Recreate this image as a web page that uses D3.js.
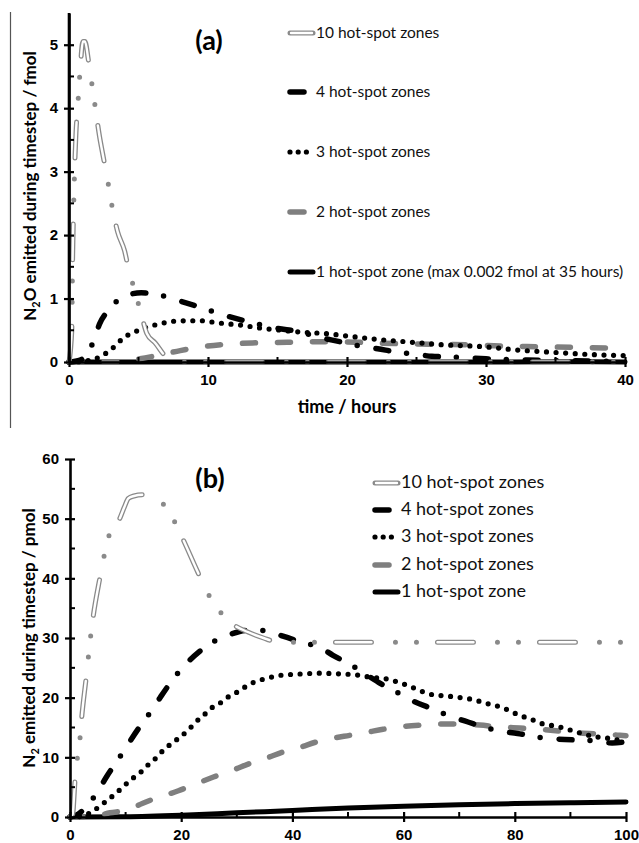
<!DOCTYPE html>
<html>
<head>
<meta charset="utf-8">
<script src="https://cdnjs.cloudflare.com/ajax/libs/d3/7.8.5/d3.min.js"></script>
<style>
  body { margin: 0; background: #fff; }
  svg { font-family: Lato, "Open Sans", sans-serif; }
  .tick text { font-weight: bold; font-size: 15px; }
</style>
</head>
<body>
<svg id="chart" width="639" height="843"></svg>
<script>
// ---- data ----
// panel (a): N2O, time in hours, fmol
var hoursA = [0, 10, 20, 30, 40];
var n2oTicks = [0, 1, 2, 3, 4, 5];
var n2o_10 = [[0,0],[0.2,0.5],[0.25,1.5],[0.3,2.1],[0.4,3.0],[0.5,3.6],[0.65,4.1],[0.8,4.6],[1.0,5.05],[1.15,5.05],
  [1.4,4.75],[1.6,4.45],[1.8,4.15],[2.2,3.55],[2.45,3.25],[2.75,2.9],[3.1,2.45],[3.5,2.05],[4.0,1.75],[4.3,1.45],
  [4.7,1.15],[5.2,0.75],[5.6,0.45],[6.2,0.3],[7,0.08],[8,0],[40,0]];
var n2o_4 = [[0,0],[0.8,0.03],[1.75,0.32],[2.2,0.6],[2.95,0.84],[3.9,1.03],[5.2,1.09],[6.4,1.06],[7.7,0.98],[9.2,0.88],
  [10.3,0.8],[11.6,0.71],[13,0.63],[15,0.53],[16.5,0.48],[17.8,0.4],[19.5,0.32],[21,0.25],[22.2,0.21],[23.5,0.16],
  [25,0.12],[26.1,0.09],[27.5,0.08],[29,0.06],[30,0.05],[33,0.03],[36,0.02],[40,0.01]];
var n2o_3 = [[0,0],[1,0.01],[2.2,0.08],[2.8,0.16],[3.4,0.27],[3.9,0.38],[4.6,0.46],[5.2,0.52],[5.95,0.57],[6.7,0.61],
  [7.4,0.64],[8.4,0.65],[9.6,0.65],[10.3,0.63],[11,0.61],[12.4,0.58],[13.9,0.53],[15.3,0.5],[16.8,0.47],[18.3,0.45],
  [20.4,0.4],[22,0.36],[24.2,0.32],[27,0.27],[29.9,0.24],[32.2,0.19],[35,0.15],[37.3,0.12],[40,0.1]];
var n2o_2 = [[0,0],[3,0],[5.1,0.05],[6.3,0.1],[8,0.18],[9.6,0.24],[11.4,0.28],[13.2,0.3],[15.7,0.31],[18.4,0.32],
  [20.9,0.31],[23.5,0.29],[26.1,0.28],[28.8,0.27],[31.2,0.25],[33.9,0.24],[36.4,0.23],[38.9,0.22],[40,0.21]];
var n2o_1 = [[0,0],[10,0.0005],[20,0.0015],[35,0.002],[40,0.0019]];

// panel (b): N2, time in hours, pmol
var hoursB = [0, 20, 40, 60, 80, 100];
var n2Ticks = [0, 10, 20, 30, 40, 50, 60];
var n2_10 = [[0,0],[0.5,0.5],[0.7,3],[0.9,6.2],[1.3,9.7],[1.8,13.2],[2.1,16.6],[2.9,23.3],[3.3,26.8],[3.7,30.2],
  [4.2,33.8],[5.4,40.2],[6.1,43.6],[7,47.1],[8.8,49.7],[9.8,52],[10.5,53.4],[11.5,53.8],[13,54],[14.5,53.8],
  [16.2,53],[18.4,50.2],[20.1,47],[23,41],[24.5,38],[26.5,35],[29,32.5],[32,31],[34.8,30],[37,29.4],[40,29.3],[100,29.3]];
var n2_4 = [[0,0],[1.5,0.5],[2.5,1.3],[4.8,4],[6.6,6.8],[8.7,9.7],[10.5,12.3],[12.3,14.8],[14.7,17.9],[16.2,20],
  [18.3,22.8],[20.4,25.2],[23.1,27.6],[26,29.5],[28.8,30.6],[32,31.3],[35.6,31.2],[38.3,30.3],[41.7,29.3],[45,28.4],
  [47.3,27.1],[50.5,25.5],[53.4,23.8],[55.8,22.4],[59,20.8],[62,19.3],[64.7,18.3],[67.8,17.1],[71,16.1],[74,15.2],
  [77.3,14.4],[80.5,14],[84,13.4],[87.2,13.1],[91,12.9],[94,12.8],[97.5,12.4],[100,12.6]];
var n2_3 = [[0,0],[2,0.1],[3.6,0.7],[5.2,1.7],[6.7,2.8],[8.3,4],[9.7,5.2],[11.3,6.5],[12.7,7.5],[14,8.7],[15.6,10],
  [17,11.4],[18.4,12.4],[19.8,13.4],[21.3,14.6],[22.6,15.9],[24.1,17.1],[25.5,18.3],[27,19.1],[28.4,20.1],[30,20.9],
  [31.5,21.8],[33.1,22.6],[34.8,23.1],[36.5,23.5],[38.3,23.8],[40.1,23.9],[42,24],[45,24.1],[48,24],[51.6,23.8],
  [53.6,23.5],[55.4,23.3],[57.2,23.1],[59,22.6],[60.6,22.1],[62.4,21.4],[64,20.8],[65.8,20.4],[67.6,20.3],
  [69.4,20.1],[71,19.9],[72.9,19.6],[74.6,19.1],[76,18.8],[77.9,18.3],[79.5,17.6],[81.3,16.9],[82.9,16.4],
  [84.7,15.7],[86.3,15.4],[88,15.1],[89.9,14.6],[91.7,14.1],[93.3,13.7],[94.9,13.4],[96.8,13.2],[98.5,12.9],[100,12.6]];
var n2_2 = [[0,0],[4,0],[7.2,0.7],[10,1.1],[13.1,2.3],[15,3],[19.5,4.4],[22.2,5.4],[25.8,6.7],[29.4,7.9],[32.4,9],
  [35.4,9.9],[38.3,10.9],[41.4,11.7],[44.4,12.6],[47.3,13.2],[50.4,13.7],[53.4,14.2],[56.3,14.7],[59.4,15.1],
  [63,15.4],[66.5,15.6],[70,15.6],[73.7,15.4],[77.3,15.1],[80.9,14.9],[84.5,14.7],[88.1,14.4],[91.7,14.1],
  [95.3,13.9],[98.9,13.7],[100,13.6]];
var n2_1 = [[0,0],[10,0.05],[20,0.3],[30,0.7],[40,1.1],[50,1.5],[60,1.8],[70,2.05],[80,2.25],[90,2.4],[100,2.5]];

var labelsA = ["10 hot-spot zones", "4 hot-spot zones", "3 hot-spot zones", "2 hot-spot zones",
  "1 hot-spot zone (max 0.002 fmol at 35 hours)"];
var labelsB = ["10 hot-spot zones", "4 hot-spot zones", "3 hot-spot zones", "2 hot-spot zones", "1 hot-spot zone"];
var styleKeys = ["z10", "z4", "z3", "z2", "z1"];

// ---- line styles ----
var styles = {
  z10: [{stroke: "#8a8a8a", width: 5, dash: "36 24 0 21 0 21"}, {stroke: "#fff", width: 2.4, dash: "36 66"}],
  z4: [{stroke: "#000", width: 5.5, dash: "13 18 0 19"}],
  z3: [{stroke: "#000", width: 5.2, dash: "0 9.6"}],
  z2: [{stroke: "#7f7f7f", width: 5.5, dash: "13 22"}],
  z1: [{stroke: "#000", width: 5, dash: null}]
};

var svg = d3.select("#chart");

// vertical rule on the left of panel (a)
svg.append("line")
  .attr("x1", 10.5).attr("x2", 10.5)
  .attr("y1", 12).attr("y2", 428)
  .style("stroke", "#555").style("stroke-width", 1.2);

function drawAxes(g, x, y, xMajor, xMinor, yMajor, yMinor) {
  var y0 = y.range()[0], x0 = x.range()[0];
  // minor ticks (inside only)
  g.selectAll(".xminor").data(xMinor).enter().append("line")
    .attr("x1", function(d) { return x(d); }).attr("x2", function(d) { return x(d); })
    .attr("y1", y0).attr("y2", y0 - 5)
    .style("stroke", "#000").style("stroke-width", 2);
  g.selectAll(".yminor").data(yMinor).enter().append("line")
    .attr("y1", function(d) { return y(d); }).attr("y2", function(d) { return y(d); })
    .attr("x1", x0).attr("x2", x0 + 5)
    .style("stroke", "#000").style("stroke-width", 2);

  var xa = g.append("g")
    .attr("transform", "translate(0," + y0 + ")")
    .call(d3.axisBottom(x).tickValues(xMajor).tickFormat(d3.format("d"))
      .tickSize(5).tickPadding(7).tickSizeOuter(0));
  xa.selectAll(".tick line").attr("y1", -5);
  var ya = g.append("g")
    .attr("transform", "translate(" + x0 + ",0)")
    .call(d3.axisLeft(y).tickValues(yMajor).tickFormat(d3.format("d"))
      .tickSize(5).tickPadding(6).tickSizeOuter(0));
  ya.selectAll(".tick line").attr("x1", 5);

  g.selectAll(".domain").style("stroke", "#000").style("stroke-width", 2.6);
  g.selectAll(".tick line").style("stroke", "#000").style("stroke-width", 2.2);
  g.selectAll(".tick text").style("fill", "#000");
}

function drawSeries(g, x, y, series) {
  var line = d3.line()
    .x(function(d) { return x(d[0]); })
    .y(function(d) { return y(d[1]); })
    .curve(d3.curveMonotoneX);
  series.forEach(function(s) {
    styles[s.key].forEach(function(st) {
      g.append("path")
        .datum(s.data)
        .attr("d", line)
        .style("fill", "none")
        .style("stroke", st.stroke)
        .style("stroke-width", st.width)
        .style("stroke-linecap", "round")
        .style("stroke-linejoin", "round")
        .style("stroke-dasharray", st.dash);
    });
  });
}

function drawLegend(g, labels, x1, x2, ys, fontSize) {
  labels.forEach(function(lab, i) {
    var key = styleKeys[i];
    var yy = ys[i];
    var end = (key == "z4" || key == "z2") ? x1 + 18 : x2;
    styles[key].forEach(function(st) {
      var ln = g.append("line")
        .attr("x1", x1 + 2).attr("x2", end - 2)
        .attr("y1", yy).attr("y2", yy)
        .style("stroke", st.stroke)
        .style("stroke-width", st.width)
        .style("stroke-linecap", "round");
      if (key == "z3") ln.style("stroke-dasharray", "0 8.2");
      if (key == "z10" && st.stroke == "#fff") ln.attr("x1", x1 + 3).attr("x2", end - 3);
    });
    g.append("text")
      .attr("x", x2 + 1).attr("y", yy + 5)
      .style("font-size", fontSize + "px")
      .style("fill", "#111")
      .text(lab);
  });
}

// ---- panel (a) ----
var xA = d3.scaleLinear().domain([0, 40]).range([69, 625]);
var yA = d3.scaleLinear().domain([0, 5.5]).range([362, 13]);
var gA = svg.append("g");

drawSeries(gA, xA, yA, [
  {key: "z1", data: n2o_1}, {key: "z2", data: n2o_2}, {key: "z3", data: n2o_3},
  {key: "z4", data: n2o_4}, {key: "z10", data: n2o_10}
]);
drawAxes(gA, xA, yA, hoursA, [5, 15, 25, 35], n2oTicks, [0.5, 1.5, 2.5, 3.5, 4.5]);
gA.append("line").attr("x1", 69).attr("x2", 69).attr("y1", 362).attr("y2", 13)
  .style("stroke", "#000").style("stroke-width", 2.6);

gA.append("text").attr("x", 209).attr("y", 50)
  .attr("text-anchor", "middle")
  .style("font-size", "27px").style("font-weight", "bold")
  .text("(a)");

var yTitleA = gA.append("text")
  .attr("transform", "translate(36,186) rotate(-90)")
  .attr("text-anchor", "middle")
  .style("font-size", "17px").style("font-weight", "bold");
yTitleA.append("tspan").text("N");
yTitleA.append("tspan").attr("dy", 4).style("font-size", "11px").text("2");
yTitleA.append("tspan").attr("dy", -4).text("O emitted during timestep / fmol");

gA.append("text").attr("x", 347).attr("y", 413)
  .attr("text-anchor", "middle")
  .style("font-size", "18px").style("font-weight", "bold")
  .text("time / hours");

drawLegend(gA, labelsA, 288, 315, [33, 92, 152, 212, 272], 15.5);

// ---- panel (b) ----
var xB = d3.scaleLinear().domain([0, 100]).range([70, 626]);
var yB = d3.scaleLinear().domain([0, 60]).range([817, 459]);
var gB = svg.append("g");

drawSeries(gB, xB, yB, [
  {key: "z1", data: n2_1}, {key: "z2", data: n2_2}, {key: "z3", data: n2_3},
  {key: "z4", data: n2_4}, {key: "z10", data: n2_10}
]);
drawAxes(gB, xB, yB, hoursB, [10, 30, 50, 70, 90], n2Ticks, [5, 15, 25, 35, 45, 55]);

gB.append("text").attr("x", 210).attr("y", 488)
  .attr("text-anchor", "middle")
  .style("font-size", "27px").style("font-weight", "bold")
  .text("(b)");

var yTitleB = gB.append("text")
  .attr("transform", "translate(35,638) rotate(-90)")
  .attr("text-anchor", "middle")
  .style("font-size", "17px").style("font-weight", "bold");
yTitleB.append("tspan").text("N");
yTitleB.append("tspan").attr("dy", 4).style("font-size", "11px").text("2");
yTitleB.append("tspan").attr("dy", -4).text(" emitted during timestep / pmol");

drawLegend(gB, labelsB, 373, 400, [483, 510, 537, 565, 592], 18);
</script>
</body>
</html>
